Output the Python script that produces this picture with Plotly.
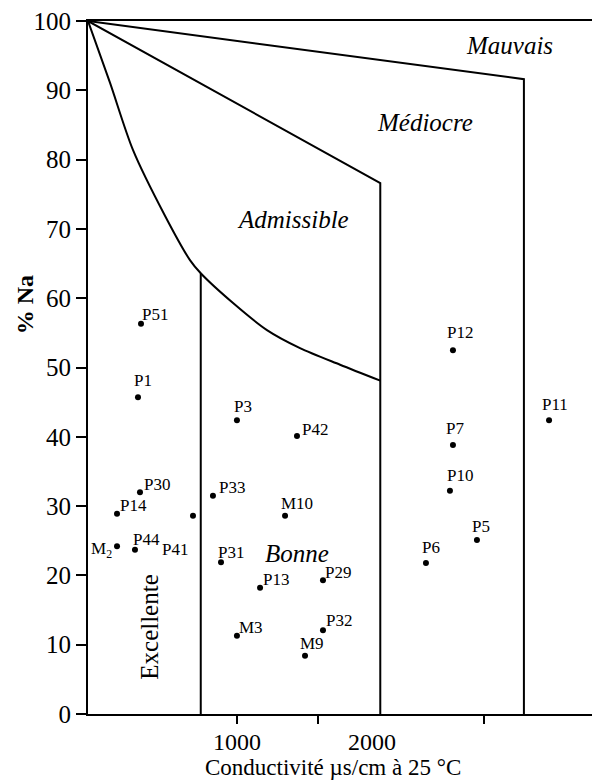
import plotly.graph_objects as go

# ---- data ----
names = ["P51", "P1", "P3", "P42", "P30", "P14", "P41", "M<sub>2</sub>", "P44", "P33", "M10",
         "P31", "P13", "P29", "M3", "P32", "M9", "P12", "P11", "P7", "P10", "P5", "P6"]
cond = [334, 313, 1002, 1420, 327, 167, 696, 167, 292, 835, 1337,
        891, 1163, 1601, 1002, 1601, 1476, 2506, 3175, 2506, 2485, 2673, 2318]
na = [56.3, 45.7, 42.4, 40.1, 32.0, 28.9, 28.6, 24.2, 23.7, 31.5, 28.6,
      21.9, 18.2, 19.3, 11.3, 12.1, 8.4, 52.5, 42.4, 38.8, 32.2, 25.1, 21.8]
# label offsets (pixels) relative to each point
lab_dx = [14, 5, 6, 18, 17, 16, -18, -16, 12, 19, 12, 10, 16, 15, 14, 16, 7, 7, 6, 2, 10, 4, 5]
lab_dy = [9, 17, 14, 7, 8, 8, -34, -4, 10, 8, 12, 10, 8, 8, 8, 10, 12, 18, 16, 17, 15, 14, 15]

# boundary between Excellente/Bonne and Admissible (curve)
curve_x = [-35, 118, 278, 501, 675, 750, 975, 1211, 1441, 1720, 2000]
curve_y = [100, 91.1, 81.4, 71.9, 65.5, 63.6, 59.3, 55.4, 52.8, 50.4, 48.1]
# Admissible / Médiocre boundary
adm_x = [-35, 2000, 2000]
adm_y = [100, 76.6, 0]
# Médiocre / Mauvais boundary
med_x = [-35, 3000, 3000]
med_y = [100, 91.6, 0]
# Excellente / Bonne boundary
exc_x = [750, 750]
exc_y = [63.6, 0]

x_range = [-35, 3495]
x_ticks = [1000, 1566, 2722]
x_labels = [(1000, "1000", 0), (2000, "2000", -8)]
y_ticks = list(range(0, 101, 10))

regions = [("<i>Mauvais</i>", 2903, 96.4, 0), ("<i>Médiocre</i>", 2311, 85.4, 0),
           ("<i>Admissible</i>", 1392, 71.3, 0), ("<i>Bonne</i>", 1420, 23.2, 0),
           ("Excellente", 397, 12.6, -90)]

FONT = "Times New Roman, Times, Liberation Serif, Tinos, Noto Serif, DejaVu Serif, serif"
fig = go.Figure()
line_style = dict(color="black", width=2)
fig.add_trace(go.Scatter(x=curve_x, y=curve_y, mode="lines",
                         line=dict(color="black", width=2, shape="spline", smoothing=0.8),
                         showlegend=False, hoverinfo="skip"))
for xs, ys in [(adm_x, adm_y), (med_x, med_y), (exc_x, exc_y)]:
    fig.add_trace(go.Scatter(x=xs, y=ys, mode="lines", line=line_style,
                             showlegend=False, hoverinfo="skip"))

fig.add_trace(go.Scatter(x=cond, y=na, mode="markers",
                         marker=dict(color="black", size=6), showlegend=False,
                         text=names, hoverinfo="text+x+y"))

for n, x, y, dx, dy in zip(names, cond, na, lab_dx, lab_dy):
    fig.add_annotation(x=x, y=y, text=n, showarrow=False, xshift=dx, yshift=dy,
                       xanchor="center", yanchor="middle",
                       font=dict(family=FONT, size=17, color="black"))

for t, x, y, ang in regions:
    fig.add_annotation(x=x, y=y, text=t, showarrow=False, textangle=ang,
                       xanchor="center", yanchor="middle",
                       font=dict(family=FONT, size=25, color="black"))

for xv, txt, sh in x_labels:
    fig.add_annotation(x=xv, y=-0.04, yref="paper", text=txt, showarrow=False,
                       xanchor="center", yanchor="middle", xshift=sh,
                       font=dict(family=FONT, size=24, color="black"))
fig.add_annotation(x=0.483, y=-0.0775, xref="paper", yref="paper",
                   text="Conductivité µs/cm à 25 °C", showarrow=False,
                   xanchor="center", yanchor="middle",
                   font=dict(family=FONT, size=23, color="black"))
fig.add_annotation(x=-0.124, y=0.59, xref="paper", yref="paper", text="<b>% Na</b>",
                   textangle=-90, showarrow=False, xanchor="center", yanchor="middle",
                   font=dict(family=FONT, size=24, color="black"))

# page body has an 8px default margin: compensate so the plot area lands at 88..595 x 21..714
fig.update_layout(
    width=592, height=776,
    margin=dict(l=80, r=5, t=13, b=70),
    plot_bgcolor="white", paper_bgcolor="white",
    font=dict(family=FONT, color="black"),
    xaxis=dict(range=x_range, tickvals=x_ticks, showticklabels=False, automargin=False,
               showgrid=False, zeroline=False, showline=True, mirror=True,
               linecolor="black", linewidth=2, ticks="outside", ticklen=8,
               tickwidth=2, tickcolor="black"),
    yaxis=dict(range=[0, 100], tickvals=y_ticks, showgrid=False, zeroline=False,
               automargin=False, ticklabeloverflow="allow",
               showline=True, mirror=True, linecolor="black", linewidth=2,
               ticks="outside", ticklen=10, tickwidth=2, tickcolor="black",
               tickfont=dict(family=FONT, size=25, color="black")),
)

fig.write_html("out.html")
